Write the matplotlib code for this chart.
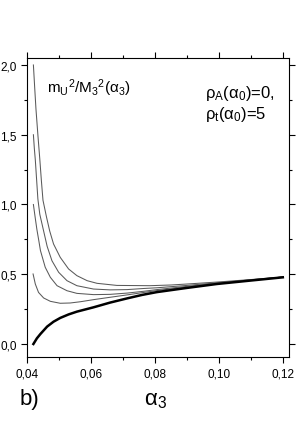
import numpy as np
import matplotlib as mpl
import matplotlib.pyplot as plt
from matplotlib.ticker import MultipleLocator, FuncFormatter

mpl.rcParams.update({"font.family": "sans-serif",
                     "font.sans-serif": ["Liberation Sans", "DejaVu Sans"],
                     "mathtext.fontset": "custom",
                     "mathtext.rm": "Liberation Sans",
                     "mathtext.it": "Liberation Sans",
                     "mathtext.default": "regular"})

# ====== Data ======
# thick curve
x_thick = [0.042, 0.0431, 0.0442, 0.0463, 0.0483, 0.0504, 0.053, 0.0556, 0.0608, 0.066, 0.0713,
           0.076, 0.0806, 0.09, 0.0993, 0.11, 0.12]
y_thick = [0.0, 0.041, 0.072, 0.125, 0.16, 0.187, 0.212, 0.232, 0.263, 0.297, 0.327,
           0.352, 0.372, 0.402, 0.43, 0.455, 0.478]

# thin curves, starting at 0.5, 1.0, 1.5, 2.0
x_05 = [0.0419, 0.0426, 0.0436, 0.0452, 0.0473, 0.0504, 0.0535, 0.0567, 0.0608, 0.066,
        0.0713, 0.076, 0.0806, 0.09, 0.1, 0.11, 0.12]
y_05 = [0.502, 0.43, 0.37, 0.33, 0.306, 0.292, 0.294, 0.303, 0.318, 0.335,
        0.352, 0.368, 0.383, 0.408, 0.434, 0.457, 0.48]

x_10 = [0.042, 0.0426, 0.0431, 0.0437, 0.0442, 0.0457, 0.0473, 0.0494, 0.0525, 0.0556,
        0.0608, 0.066, 0.0713, 0.0765, 0.0806, 0.09, 0.1, 0.11, 0.12]
y_10 = [1.0, 0.90, 0.82, 0.74, 0.67, 0.55, 0.478, 0.418, 0.382, 0.363,
        0.354, 0.356, 0.365, 0.378, 0.39, 0.413, 0.437, 0.458, 0.48]

x_15 = [0.042, 0.0423, 0.0426, 0.043, 0.0434, 0.044, 0.045, 0.0463, 0.0478, 0.0499,
        0.0525, 0.0556, 0.0608, 0.066, 0.0713, 0.0765, 0.0806, 0.09, 0.1, 0.11, 0.12]
y_15 = [1.5, 1.40, 1.32, 1.18, 1.04, 0.93, 0.83, 0.70, 0.597, 0.514,
        0.454, 0.418, 0.394, 0.388, 0.39, 0.398, 0.403, 0.42, 0.44, 0.46, 0.48]

x_20 = [0.042, 0.0424, 0.0428, 0.0434, 0.044, 0.0445, 0.045, 0.0461, 0.0471, 0.0483,
        0.0504, 0.053, 0.0556, 0.0588, 0.0619, 0.0681, 0.0784, 0.085, 0.09, 0.1, 0.11, 0.12]
y_20 = [2.0, 1.84, 1.685, 1.50, 1.326, 1.17, 1.03, 0.91, 0.81, 0.717,
        0.621, 0.538, 0.49, 0.454, 0.435, 0.42, 0.418, 0.423, 0.43, 0.445, 0.462, 0.48]

thin_x = [x_05, x_10, x_15, x_20]
thin_y = [y_05, y_10, y_15, y_20]

# ====== Figure ======
fig = plt.figure(figsize=(3.0, 4.31), dpi=100)
ax = fig.add_axes([0.09, 0.1694, 0.873, 0.6937])

for xs, ys in zip(thin_x, thin_y):
    ax.plot(xs, ys, color="#5a5a5a", lw=0.75)
ax.plot(x_thick, y_thick, color="black", lw=1.8)

ax.set_xlim(0.04, 0.1219)
ax.set_ylim(-0.093, 2.05)
ax.xaxis.set_major_locator(MultipleLocator(0.02))
ax.xaxis.set_minor_locator(MultipleLocator(0.01))
ax.yaxis.set_major_locator(MultipleLocator(0.5))
ax.yaxis.set_minor_locator(MultipleLocator(0.25))
ax.xaxis.set_major_formatter(FuncFormatter(lambda v, p: f"{v:.2f}".replace(".", ",")))
ax.yaxis.set_major_formatter(FuncFormatter(lambda v, p: f"{v:.1f}".replace(".", ",")))
ax.tick_params(which="both", direction="out", top=True, right=True, labelsize=8.5, width=0.8)
ax.tick_params(which="major", length=4)
ax.tick_params(which="minor", length=2.5)
for s in ax.spines.values():
    s.set_linewidth(0.8)

ax.text(0.076, 0.903, r"m$_U$$^2$/M$_3$$^2$($\alpha_3$)", transform=ax.transAxes, fontsize=11, va="center")
ax.text(0.68, 0.886, r"$\rho_A$($\alpha_0$)=0,", transform=ax.transAxes, fontsize=12, va="center")
ax.text(0.68, 0.813, r"$\rho_t$($\alpha_0$)=5", transform=ax.transAxes, fontsize=12, va="center")

fig.text(0.52, 0.07, r"$\alpha_3$", fontsize=16, ha="center", va="center")
fig.text(0.065, 0.072, "b)", fontsize=16, ha="left", va="center")

fig.savefig("out.png", dpi=100)
